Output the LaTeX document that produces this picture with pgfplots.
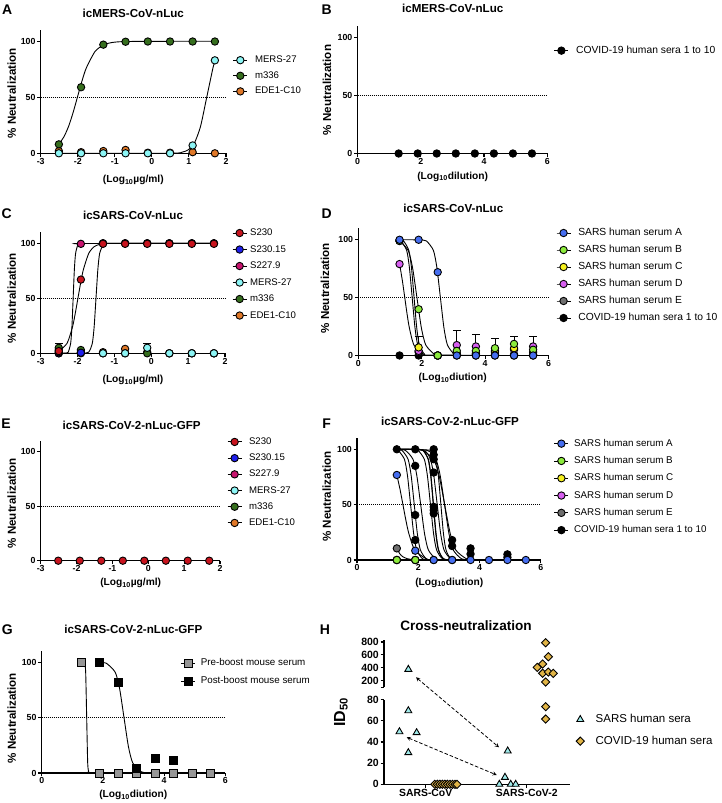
\documentclass[border=0pt]{standalone}
\usepackage{pgfplots}
\pgfplotsset{compat=1.18}
\usepackage{fontspec}
\setmainfont{Liberation Sans}
\newcommand{\fs}[1]{\fontsize{#1}{#1}\selectfont}
\definecolor{mersc}{RGB}{140,245,245}
\definecolor{mgreen}{RGB}{54,110,30}
\definecolor{edeo}{RGB}{224,120,40}
\definecolor{sred}{RGB}{200,20,30}
\definecolor{sblue}{RGB}{30,30,235}
\definecolor{smag}{RGB}{200,20,110}
\definecolor{sarsA}{RGB}{70,110,240}
\definecolor{sarsB}{RGB}{140,235,60}
\definecolor{sarsC}{RGB}{245,240,30}
\definecolor{sarsD}{RGB}{215,95,240}
\definecolor{sarsE}{RGB}{110,110,110}
\definecolor{preg}{RGB}{150,150,150}
\definecolor{hcyan}{RGB}{160,235,235}
\definecolor{hgold}{RGB}{225,180,70}
\pgfplotsset{
 gp/.style={scale only axis, anchor=south west, axis lines=left,
   axis line style={line width=1.3pt,-},
   every tick/.style={black, line width=1.1pt}, major tick length=3.5pt, tick align=outside,
   clip=false, ymin=0, ymax=110, ytick={0,50,100},
   /pgf/number format/assume math mode=true,
   tick label style={font=\fs{8.8}\bfseries},
   xticklabel style={inner sep=1pt}, yticklabel style={inner sep=1.5pt},
   legend cell align=left,
   legend style={draw=none, fill=none, anchor=north west, inner sep=0pt, row sep=4pt,
     nodes={inner sep=1pt, text height=7pt, text depth=2pt}},
   legend image code/.code={\draw[mark repeat=2,mark phase=2,##1] plot coordinates {(0pt,0pt) (7pt,0pt) (14pt,0pt)};},
 },
 csep/.style={legend style={/tikz/every odd column/.append style={column sep=#1}}},
 mk/.style={only marks, mark=*, mark size=3.7pt, mark options={draw=black, line width=0.9pt, fill=#1}, forget plot},
 sq/.style={only marks, mark=square*, mark size=4pt, mark options={draw=black, line width=0.9pt, fill=#1}, forget plot},
 cv/.style={black, line width=0.9pt, smooth, tension=0.4, no marks, forget plot},
 fifty/.style={black, line width=0.8pt, dash pattern=on 1pt off 1pt, no marks, forget plot},
 li/.style={black, line width=0.9pt, mark=*, mark size=3.7pt, mark options={fill=#1, solid}},
 eb/.style={only marks, mark=none, forget plot, error bars/.cd, y dir=plus, y explicit,
   error bar style={black, line width=0.9pt}, error mark options={black, rotate=90, mark size=4pt, line width=0.9pt}},
}
\begin{document}
\begin{tikzpicture}[x=1pt,y=1pt]
\path[use as bounding box] (0,0) rectangle (721,803);

% ---------------- A
\begin{axis}[gp, at={(40.7pt,649.7pt)}, width=185.3pt, height=123.2pt, xmin=-3, xmax=2, xtick={-3,...,2},
  legend style={at={(1.036,0.802)}, font=\fs{9.6}, row sep=4.6pt}, csep=6.3pt]
\addlegendimage{li=mersc}\addlegendentry{MERS-27}
\addlegendimage{li=mgreen}\addlegendentry{m336}
\addlegendimage{li=edeo}\addlegendentry{EDE1-C10}
\addplot[fifty] coordinates {(-3,50) (2,50)};
\addplot[cv] coordinates {(-2.51,8.2) (-2.37,14.9) (-2.248,24) (-2.129,36) (-2.01,50) (-1.891,64) (-1.772,76) (-1.534,90.9) (-1.296,96.9) (-1.058,99) (-0.7,99.8) (0.5,100) (1.7,100)};
\addplot[cv] coordinates {(-2.51,0) (0.5,0.1) (0.814,1) (0.98,3.1) (1.147,9.1) (1.313,24) (1.48,50) (1.647,76) (1.7,82)};
\addplot[black, line width=1.3pt, forget plot] coordinates {(-2.51,0) (1.7,0)};
\addplot[mk=edeo] coordinates {(-2.51,2) (-1.91,1) (-1.31,2) (-0.71,3) (-0.11,0.5) (0.49,0.5) (1.1,1) (1.7,0)};
\addplot[mk=mgreen] coordinates {(-2.51,8) (-1.91,59) (-1.31,97) (-0.71,99.6) (-0.11,99.8) (0.49,99.8) (1.1,99.8) (1.7,99.8)};
\addplot[mk=mersc] coordinates {(-2.51,0) (-1.91,0) (-1.31,0) (-0.71,0) (-0.11,0) (0.49,0) (1.1,7) (1.7,83)};
\end{axis}

% ---------------- B
\begin{axis}[gp, at={(357.5pt,649.5pt)}, width=189.8pt, height=127.4pt, xmin=0, xmax=6, xtick={0,2,4,6},
  legend style={at={(1.034,0.852)}, font=\fs{10.3}}, csep=6.3pt]
\addlegendimage{li=black}\addlegendentry{COVID-19 human sera 1 to 10}
\addplot[fifty] coordinates {(0,50) (6,50)};
\addplot[black, line width=1.3pt, forget plot] coordinates {(1.301,0) (5.515,0)};
\addplot[mk=black] coordinates {(1.301,0) (1.903,0) (2.505,0) (3.107,0) (3.709,0) (4.311,0) (4.913,0) (5.515,0)};
\end{axis}

% ---------------- C
\begin{axis}[gp, at={(40.7pt,449.7pt)}, width=184.3pt, height=121pt, xmin=-3, xmax=2, xtick={-3,...,2},
  legend style={at={(1.038,1.041)}, font=\fs{9.6}, row sep=5.5pt}, csep=2pt]
\addlegendimage{li=sred}\addlegendentry{S230}
\addlegendimage{li=sblue}\addlegendentry{S230.15}
\addlegendimage{li=smag}\addlegendentry{S227.9}
\addlegendimage{li=mersc}\addlegendentry{MERS-27}
\addlegendimage{li=mgreen}\addlegendentry{m336}
\addlegendimage{li=edeo}\addlegendentry{EDE1-C10}
\addplot[fifty] coordinates {(-3,50) (2,50)};
\addplot[cv] coordinates {(-2.51,1.7) (-2.284,9.1) (-2.137,24) (-2.064,36) (-1.99,50) (-1.916,64) (-1.843,76) (-1.696,90.9) (-1.55,96.9) (-1.402,99) (-1.2,99.8) (1.7,100)};
\addplot[cv] coordinates {(-2.51,0) (-2.3,0.2) (-2.253,1) (-2.187,9.1) (-2.153,24) (-2.12,50) (-2.087,76) (-2.053,90.9) (-1.987,99) (-1.91,99.8) (1.7,100)};
\addplot[cv] coordinates {(-2.51,0) (-1.9,0.1) (-1.7,1) (-1.6,9.1) (-1.55,24) (-1.5,50) (-1.45,76) (-1.4,90.9) (-1.3,99) (-1.2,99.9) (1.7,100)};
\addplot[black, line width=1.3pt, forget plot] coordinates {(-2.51,0) (1.7,0)};
\addplot[eb] coordinates {(-2.51,4) +- (0,5) (-0.11,5) +- (0,4)};
\addplot[mk=edeo] coordinates {(-2.51,3) (-1.91,1) (-1.31,1) (-0.71,4) (-0.11,1) (0.49,0) (1.1,0) (1.7,0)};
\addplot[mk=mgreen] coordinates {(-2.51,5) (-1.91,3) (-1.31,0) (-0.71,0) (-0.11,0) (0.49,0) (1.1,0) (1.7,0)};
\addplot[mk=mersc] coordinates {(-2.51,0) (-1.91,0) (-1.31,0) (-0.71,0) (-0.11,5) (0.49,0) (1.1,0) (1.7,0)};
\addplot[mk=sblue] coordinates {(-2.51,0) (-1.91,0.5) (-1.31,100) (-0.71,100) (-0.11,100) (0.49,100) (1.1,100) (1.7,100)};
\addplot[mk=smag] coordinates {(-2.51,1) (-1.91,99.5) (-1.31,100) (-0.71,100) (-0.11,100) (0.49,100) (1.1,100) (1.7,100)};
\addplot[mk=sred] coordinates {(-2.51,2) (-1.91,67) (-1.31,99.5) (-0.71,99.5) (-0.11,99.5) (0.49,99.5) (1.1,99.5) (1.7,99.5)};
\end{axis}

% ---------------- D
\begin{axis}[gp, at={(358.3pt,447.5pt)}, width=190.2pt, height=127.3pt, xmin=0, xmax=6, xtick={0,2,4,6},
  legend style={at={(1.039,1.007)}, font=\fs{10.3}, row sep=6pt}, csep=6.3pt]
\addlegendimage{li=sarsA}\addlegendentry{SARS human serum A}
\addlegendimage{li=sarsB}\addlegendentry{SARS human serum B}
\addlegendimage{li=sarsC}\addlegendentry{SARS human serum C}
\addlegendimage{li=sarsD}\addlegendentry{SARS human serum D}
\addlegendimage{li=sarsE}\addlegendentry{SARS human serum E}
\addlegendimage{li=black}\addlegendentry{COVID-19 human sera 1 to 10}
\addplot[fifty] coordinates {(0,50) (6,50)};
\addplot[cv] coordinates {(1.301,100) (1.903,99.9) (2.146,99) (2.368,90.9) (2.479,76) (2.59,50) (2.701,24) (2.812,9.1) (3.034,1) (3.3,0.1) (5.515,0)};
\addplot[cv] coordinates {(1.301,99) (1.572,90.9) (1.711,76) (1.85,50) (1.989,24) (2.128,9.1) (2.406,1) (2.7,0.1) (5.515,0)};
\addplot[cv] coordinates {(1.301,99.5) (1.35,99) (1.525,90.9) (1.612,76) (1.70,50) (1.788,24) (1.875,9.1) (2.05,1) (2.3,0.1) (5.515,0)};
\addplot[cv] coordinates {(1.301,99.8) (1.427,99) (1.593,90.9) (1.677,76) (1.76,50) (1.843,24) (1.927,9.1) (2.093,1) (2.3,0.1) (5.515,0)};
\addplot[cv] coordinates {(1.301,79) (1.322,76) (1.394,64) (1.466,50) (1.538,36) (1.61,24) (1.754,9.1) (2.042,1) (2.3,0.1) (5.515,0)};
\addplot[black, line width=1.3pt, forget plot] coordinates {(1.301,0) (5.515,0)};
\addplot[eb] coordinates {(1.903,5) +- (0,11.5) (3.107,9) +- (0,12.6) (3.709,7.8) +- (0,10.1) (4.311,6.3) +- (0,8.7) (4.913,10) +- (0,6.5) (5.515,7.8) +- (0,8.7)};
\addplot[mk=black] coordinates {(1.301,0) (1.903,0) (2.505,0) (3.107,0) (3.709,0) (4.311,0) (4.913,0) (5.515,0)};
\addplot[mk=sarsE] coordinates {(1.301,99) (1.903,3) (2.505,0) (3.107,1) (3.709,1) (4.311,1) (4.913,1) (5.515,1)};
\addplot[mk=sarsD] coordinates {(1.301,79) (1.903,4) (2.505,0) (3.107,9) (3.709,7.8) (4.311,3) (4.913,5) (5.515,7.8)};
\addplot[mk=sarsC] coordinates {(1.301,99.5) (1.903,7) (2.505,0) (3.107,2) (3.709,2) (4.311,4) (4.913,6.3) (5.515,3)};
\addplot[mk=sarsB] coordinates {(1.301,99) (1.903,40) (2.505,0) (3.107,4) (3.709,4) (4.311,6.3) (4.913,10) (5.515,5)};
\addplot[mk=sarsA] coordinates {(1.301,100) (1.903,100) (2.505,72) (3.107,0) (3.709,0) (4.311,0) (4.913,0) (5.515,0)};
\end{axis}

% ---------------- E
\begin{axis}[gp, at={(40.7pt,242.3pt)}, width=179.3pt, height=119.9pt, xmin=-3, xmax=2, xtick={-3,...,2},
  legend style={at={(1.039,1.038)}, font=\fs{9.6}, row sep=5.2pt}, csep=6pt]
\addlegendimage{li=sred}\addlegendentry{S230}
\addlegendimage{li=sblue}\addlegendentry{S230.15}
\addlegendimage{li=smag}\addlegendentry{S227.9}
\addlegendimage{li=mersc}\addlegendentry{MERS-27}
\addlegendimage{li=mgreen}\addlegendentry{m336}
\addlegendimage{li=edeo}\addlegendentry{EDE1-C10}
\addplot[fifty] coordinates {(-3,50) (2,50)};
\addplot[black, line width=1.3pt, forget plot] coordinates {(-2.51,0) (1.7,0)};
\addplot[mk=sred] coordinates {(-2.51,0) (-1.91,0) (-1.31,0) (-0.71,0) (-0.11,0) (0.49,0) (1.1,0) (1.7,0)};
\end{axis}

% ---------------- F
\begin{axis}[gp, at={(357pt,243pt)}, width=183.7pt, height=121.8pt, xmin=0, xmax=6, xtick={0,2,4,6},
  legend style={at={(1.071,1.002)}, font=\fs{9.8}, row sep=6.3pt}, csep=4.3pt]
\addlegendimage{li=sarsA}\addlegendentry{SARS human serum A}
\addlegendimage{li=sarsB}\addlegendentry{SARS human serum B}
\addlegendimage{li=sarsC}\addlegendentry{SARS human serum C}
\addlegendimage{li=sarsD}\addlegendentry{SARS human serum D}
\addlegendimage{li=sarsE}\addlegendentry{SARS human serum E}
\addlegendimage{li=black}\addlegendentry{COVID-19 human sera 1 to 10}
\addplot[fifty] coordinates {(0,50) (6,50)};
\addplot[cv] coordinates {(1.301,76.8) (1.404,64) (1.5,50) (1.596,36) (1.692,24) (1.885,9.1) (2.27,1) (2.6,0.1) (5.515,0)};
\addplot[cv] coordinates {(1.301,10.5) (1.4,5.5) (1.5,2.9) (1.65,1.1) (1.85,0.3) (2.2,0) (5.515,0)};
\addplot[cv] coordinates {(1.301,99.4) (1.35,99) (1.55,90.9) (1.65,76) (1.75,50) (1.85,24) (1.95,9.1) (2.15,1) (2.5,0) (5.515,0)};
\addplot[cv] coordinates {(1.301,99.9) (1.47,99) (1.67,90.9) (1.77,76) (1.87,50) (1.97,24) (2.07,9.1) (2.27,1) (2.6,0) (5.515,0)};
\addplot[cv] coordinates {(1.301,99.9) (1.58,99) (1.83,90.9) (1.955,76) (2.08,50) (2.205,24) (2.33,9.1) (2.58,1) (2.9,0) (5.515,0)};
\addplot[cv] coordinates {(1.301,100) (2.0,99.9) (2.167,99) (2.333,90.9) (2.417,76) (2.50,50) (2.583,24) (2.667,9.1) (2.833,1) (3.2,0) (5.515,0)};
\addplot[cv] coordinates {(1.301,100) (1.99,99.9) (2.157,99) (2.323,90.9) (2.407,76) (2.49,50) (2.573,24) (2.657,9.1) (2.823,1) (3.2,0) (5.515,0)};
\addplot[cv] coordinates {(1.301,100) (1.9,99.7) (2.0,99) (2.2,90.9) (2.3,76) (2.4,50) (2.5,24) (2.6,9.1) (2.8,1) (3.2,0) (5.515,0)};
\addplot[cv] coordinates {(1.301,100) (2.176,99) (2.398,90.9) (2.509,76) (2.62,50) (2.731,24) (2.842,9.1) (3.064,1) (3.4,0) (5.515,0)};
\addplot[cv] coordinates {(1.301,100) (1.9,99.8) (2.141,99) (2.502,90.9) (2.683,76) (2.863,50) (3.044,24) (3.224,9.1) (3.585,1) (4.0,0.1) (5.515,0)};
\addplot[cv] coordinates {(1.301,100) (2.294,99) (2.577,90.9) (2.719,76) (2.86,50) (3.002,24) (3.143,9.1) (3.426,1) (3.9,0) (5.515,0)};
\addplot[cv] coordinates {(1.301,100) (2.407,99) (2.573,90.9) (2.657,76) (2.74,50) (2.823,24) (2.907,9.1) (3.073,1) (3.4,0) (5.515,0)};
\addplot[black, line width=1.3pt, forget plot] coordinates {(1.301,0) (5.515,0)};
\addplot[mk=black] coordinates {(1.301,100) (1.903,100) (1.903,85) (1.903,40.6) (1.903,18) (2.505,100) (2.505,95) (2.505,91) (2.505,79) (2.505,48) (2.505,45) (2.505,42) (2.505,0) (3.107,18) (3.107,12.6) (3.107,0) (3.709,10.5) (3.709,5.4) (4.913,5.1) (4.913,2.4)};
\addplot[mk=sarsE] coordinates {(1.301,10.5)};
\addplot[mk=sarsD] coordinates {(1.301,0) (1.903,0)};
\addplot[mk=sarsC] coordinates {(1.301,0) (1.903,0)};
\addplot[mk=sarsB] coordinates {(1.301,0) (1.903,0)};
\addplot[mk=sarsA] coordinates {(1.301,76.8) (1.903,8.4) (2.505,0) (3.107,0) (3.709,0) (4.311,0) (4.913,0) (5.515,0)};
\end{axis}

% ---------------- G
\begin{axis}[gp, at={(41.7pt,30pt)}, width=183.6pt, height=121.8pt, xmin=0, xmax=6, xtick={0,2,4,6},
  legend style={at={(0.755,0.950)}, font=\fs{9.8}, row sep=7.4pt}, csep=4.4pt]
\addlegendimage{black, line width=0.9pt, mark=square*, mark size=4pt, mark options={fill=preg, solid}}\addlegendentry{Pre-boost mouse serum}
\addlegendimage{black, line width=0.9pt, mark=square*, mark size=4pt, mark options={fill=black, solid}}\addlegendentry{Post-boost mouse serum}
\addplot[fifty] coordinates {(0,50) (6,50)};
\addplot[cv] coordinates {(1.301,100) (1.403,99) (1.437,90.9) (1.47,50) (1.503,9.1) (1.537,1) (1.6,0) (5.515,0)};
\addplot[cv] coordinates {(1.903,99.8) (2.119,99) (2.404,90.9) (2.547,76) (2.69,50) (2.833,24) (2.976,9.1) (3.261,1) (3.7,0.1) (4.311,0)};
\addplot[sq=preg] coordinates {(1.301,100) (1.903,0) (2.505,0) (3.107,0) (3.709,0) (4.311,0) (4.913,0) (5.515,0)};
\addplot[sq=black] coordinates {(1.903,100) (2.505,82) (3.107,4) (3.709,13) (4.311,11)};
\end{axis}

% ---------------- H (lower)
\begin{axis}[scale only axis, anchor=south west, at={(384pt,18.7pt)}, width=186pt, height=84.6pt,
  axis lines=left, axis line style={line width=1.3pt,-},
  every tick/.style={black, line width=1.1pt}, major tick length=3.5pt, tick align=outside,
  clip=false, xmin=-0.413, xmax=1.429, ymin=0, ymax=80, ytick={0,20,40,60,80},
  xtick={0,1}, xticklabels={SARS-CoV,SARS-CoV-2},
  /pgf/number format/assume math mode=true,
  tick label style={font=\fs{10.5}\bfseries}, xticklabel style={font=\fs{10.4}\bfseries, inner sep=1pt},
  yticklabel style={inner sep=1.5pt},
  legend cell align=left,
  legend style={at={(1.032,0.839)}, anchor=north west, draw=none, fill=none, inner sep=0pt, row sep=9.7pt,
     font=\fs{11.5}, nodes={inner sep=1pt, text height=8pt, text depth=2pt},
     /tikz/every odd column/.append style={column sep=10.3pt}},
  legend image code/.code={\draw[#1, only marks] plot coordinates {(7pt,0pt)};}]
\addlegendimage{mark=triangle*, mark size=4pt, mark options={fill=hcyan, draw=black, line width=0.9pt}}\addlegendentry{SARS human sera}
\addlegendimage{mark=square*, mark size=2.9pt, mark options={fill=hgold, draw=black, line width=0.9pt, rotate=45}}\addlegendentry{COVID-19 human sera}
\addplot[only marks, forget plot, mark=triangle*, mark size=4pt, mark options={fill=hcyan, draw=black, line width=0.9pt}] coordinates {(-0.172,69.6) (-0.26,49.7) (-0.09,48.8) (-0.172,29.9) (0.812,31.5) (0.785,6.6) (0.729,0) (0.842,0) (0.891,0)};
\addplot[only marks, forget plot, mark=square*, mark size=2.9pt, mark options={fill=hgold, draw=black, line width=0.9pt, rotate=45}] coordinates {(0.09,0) (0.115,0) (0.14,0) (0.165,0) (0.19,0) (0.215,0) (0.24,0) (0.265,0) (0.29,0) (0.31,0) (1.188,73.4) (1.188,61.7)};
\end{axis}
% ---------------- H (upper)
\begin{axis}[scale only axis, anchor=south west, at={(384pt,115.8pt)}, width=186pt, height=47.1pt,
  axis y line=left, axis x line=none, axis line style={line width=1.3pt,-},
  every tick/.style={black, line width=1.1pt}, major tick length=3.5pt, tick align=outside,
  clip=false, xmin=-0.413, xmax=1.429, ymin=100, ymax=830, ytick={200,400,600,800},
  extra y ticks={100}, extra y tick labels={},
  /pgf/number format/assume math mode=true,
  tick label style={font=\fs{10.5}\bfseries}, yticklabel style={inner sep=1.5pt}]
\addplot[only marks, mark=triangle*, mark size=4pt, mark options={fill=hcyan, draw=black, line width=0.9pt}] coordinates {(-0.172,377)};
\addplot[only marks, mark=square*, mark size=2.9pt, mark options={fill=hgold, draw=black, line width=0.9pt, rotate=45}] coordinates {(1.188,789) (1.214,572) (1.158,459) (1.105,408) (1.158,315) (1.214,335) (1.263,315) (1.188,180)};
\end{axis}
\draw[black, line width=0.8pt, dash pattern=on 3.5pt off 2pt, <->, >=stealth] (416,125.7) -- (499,55.7);
\draw[black, line width=0.8pt, dash pattern=on 3.5pt off 2pt, <->, >=stealth] (406.7,65.7) -- (496.7,28);

% ---------------- texts
\begin{scope}[every node/.style={font=\fs{14}\bfseries}]
\node at (7.3,793) {A}; \node at (326.7,793) {B};
\node at (6.7,589) {C}; \node at (326.7,589) {D};
\node at (6,379) {E}; \node at (326.7,379) {F};
\node at (7.3,173.7) {G}; \node at (325,173.7) {H};
\end{scope}
\begin{scope}[every node/.style={font=\fs{11.6}\bfseries}]
\node at (133.3,789.7) {icMERS-CoV-nLuc};
\node at (452.7,794.7) {icMERS-CoV-nLuc};
\node at (133,588) {icSARS-CoV-nLuc};
\node at (453.3,594.7) {icSARS-CoV-nLuc};
\node at (131.7,378) {icSARS-CoV-2-nLuc-GFP};
\node at (450,381.3) {icSARS-CoV-2-nLuc-GFP};
\node at (133.3,174) {icSARS-CoV-2-nLuc-GFP};
\node[font=\fs{13.6}\bfseries] at (466,177.3) {Cross-neutralization};
\end{scope}
\begin{scope}[every node/.style={font=\fs{11.6}\bfseries, rotate=90}]
\node at (11.7,709.7) {\% Neutralization};
\node at (327,713) {\% Neutralization};
\node at (11.7,504.7) {\% Neutralization};
\node at (325,514.7) {\% Neutralization};
\node at (11.7,299.7) {\% Neutralization};
\node at (326.7,306.3) {\% Neutralization};
\node at (11.7,84.7) {\% Neutralization};
\node[font=\fs{16}\bfseries] at (341,91) {ID\textsubscript{50}};
\end{scope}
\begin{scope}[every node/.style={font=\fs{10.2}\bfseries}]
\node at (133.3,623) {(Log\textsubscript{10}µg/ml)};
\node at (452.7,626.3) {(Log\textsubscript{10}dilution)};
\node at (133,423) {(Log\textsubscript{10}µg/ml)};
\node at (452.7,424.7) {(Log\textsubscript{10}diution)};
\node at (130.7,219.7) {(Log\textsubscript{10}µg/ml)};
\node at (449.3,220.3) {(Log\textsubscript{10}diution)};
\node at (133.3,8) {(Log\textsubscript{10}diution)};
\end{scope}
\end{tikzpicture}
\end{document}
